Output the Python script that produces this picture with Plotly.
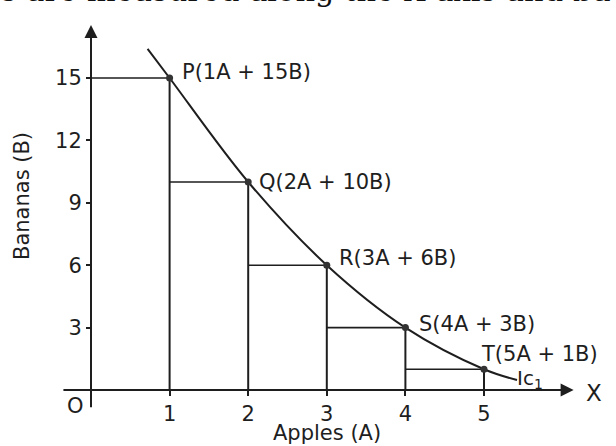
import plotly.graph_objects as go

# Indifference schedule: apples (A) and bananas (B) for each combination
point_names = ["P", "Q", "R", "S", "T"]
apples = [1, 2, 3, 4, 5]
bananas = [15, 10, 6, 3, 1]

# Indifference curve IC1 traced through the combinations (with its drawn ends)
curve_apples = [0.72, 1, 2, 3, 4, 5, 5.42]
curve_bananas = [16.4, 15, 10, 6, 3, 1, 0.48]

x_ticks = [1, 2, 3, 4, 5]
y_ticks = [3, 6, 9, 12, 15]

INK = "#1e1e1e"
FONT = "DejaVu Sans"
W, H = 616, 446

x_range = [-1.1578, 6.6794]
y_range = [-2.692, 18.75]


def px_x(v):
    return (v - x_range[0]) / (x_range[1] - x_range[0])


def px_y(v):
    return (v - y_range[0]) / (y_range[1] - y_range[0])


fig = go.Figure()

# Guide lines: vertical drop to the apples axis and horizontal step from previous level
prev_x = 0
for a, b in zip(apples, bananas):
    fig.add_trace(go.Scatter(x=[a, a], y=[b, 0], mode="lines",
                             line=dict(color=INK, width=2.0),
                             hoverinfo="skip", showlegend=False))
    fig.add_trace(go.Scatter(x=[prev_x, a], y=[b, b], mode="lines",
                             line=dict(color=INK, width=1.6),
                             hoverinfo="skip", showlegend=False))
    prev_x = a

# The indifference curve
fig.add_trace(go.Scatter(x=curve_apples, y=curve_bananas, mode="lines",
                         line=dict(color=INK, width=2.0, shape="spline", smoothing=1.0),
                         hoverinfo="skip", showlegend=False))

# Combination points
fig.add_trace(go.Scatter(x=apples, y=bananas, mode="markers",
                         marker=dict(color="#333333", size=7),
                         hoverinfo="skip", showlegend=False))

annotations = []

# Point labels, e.g. P(1A + 15B)
offsets = [(10, 6), (9, 0), (10, 7), (12, 4), (-5, 15)]
for n, a, b, (dx, dy) in zip(point_names, apples, bananas, offsets):
    annotations.append(dict(x=a, y=b, xref="x", yref="y",
                            text=f"{n}({a}A + {b}B)", showarrow=False,
                            xanchor="left", yanchor="middle",
                            xshift=dx, yshift=dy,
                            font=dict(family=FONT, size=21, color=INK)))

# Curve name
annotations.append(dict(x=curve_apples[-1], y=curve_bananas[-1], xref="x", yref="y",
                        text="Ic<sub>1</sub>", showarrow=False,
                        xanchor="left", yanchor="middle", xshift=-2, yshift=1,
                        font=dict(family=FONT, size=20, color=INK)))

# Axes with arrow heads
annotations.append(dict(x=6.14, y=0, ax=-0.37, ay=0, xref="x", yref="y",
                        axref="x", ayref="y", text="", showarrow=True,
                        arrowhead=2, arrowsize=1.3, arrowwidth=2.0,
                        arrowcolor=INK, standoff=0, startstandoff=0))
annotations.append(dict(x=0, y=17.55, ax=0, ay=-0.9, xref="x", yref="y",
                        axref="x", ayref="y", text="", showarrow=True,
                        arrowhead=2, arrowsize=1.3, arrowwidth=2.0,
                        arrowcolor=INK, standoff=0, startstandoff=0))

# Axis letters and origin
annotations.append(dict(x=6.14, y=0, xref="x", yref="y", text="X", showarrow=False,
                        xanchor="left", yanchor="middle", xshift=10, yshift=-3,
                        font=dict(family=FONT, size=23, color=INK)))
annotations.append(dict(x=0, y=0, xref="x", yref="y", text="O", showarrow=False,
                        xanchor="right", yanchor="top", xshift=-5, yshift=-2,
                        font=dict(family=FONT, size=21, color=INK)))

# Axis titles
annotations.append(dict(x=px_x(3.0), y=0, xref="paper", yref="paper",
                        text="Apples (A)", showarrow=False,
                        xanchor="center", yanchor="bottom", yshift=-1,
                        font=dict(family=FONT, size=21, color=INK)))
annotations.append(dict(x=22 / W, y=1 - 196 / H, xref="paper", yref="paper",
                        text="Bananas (B)", showarrow=False, textangle=-90,
                        xanchor="center", yanchor="middle",
                        font=dict(family=FONT, size=21, color=INK)))

# Running text of the surrounding page
annotations.append(dict(x=0, y=1, xref="paper", yref="paper",
                        text="s are measured along the X axis and ba",
                        showarrow=False, xanchor="left", yanchor="bottom",
                        xshift=-1, yshift=-10,
                        font=dict(family="DejaVu Serif", size=30.5, color="#111111")))

fig.update_layout(
    width=W, height=H,
    margin=dict(l=0, r=0, t=0, b=0),
    paper_bgcolor="white", plot_bgcolor="white",
    showlegend=False,
    annotations=annotations,
    xaxis=dict(range=x_range, domain=[0, 1], anchor="free", position=px_y(0),
               showgrid=False, zeroline=False, showline=False,
               tickvals=x_ticks, ticktext=[str(v) for v in x_ticks],
               ticks="outside", ticklen=5, tickwidth=2.0, tickcolor=INK,
               tickfont=dict(family=FONT, size=21, color=INK)),
    yaxis=dict(range=y_range, domain=[0, 1], anchor="free", position=px_x(0),
               showgrid=False, zeroline=False, showline=False,
               tickvals=y_ticks, ticktext=[str(v) for v in y_ticks],
               ticks="outside", ticklen=5, tickwidth=1.6, tickcolor=INK,
               tickfont=dict(family=FONT, size=21, color=INK)),
)

fig.write_html("out.html")
